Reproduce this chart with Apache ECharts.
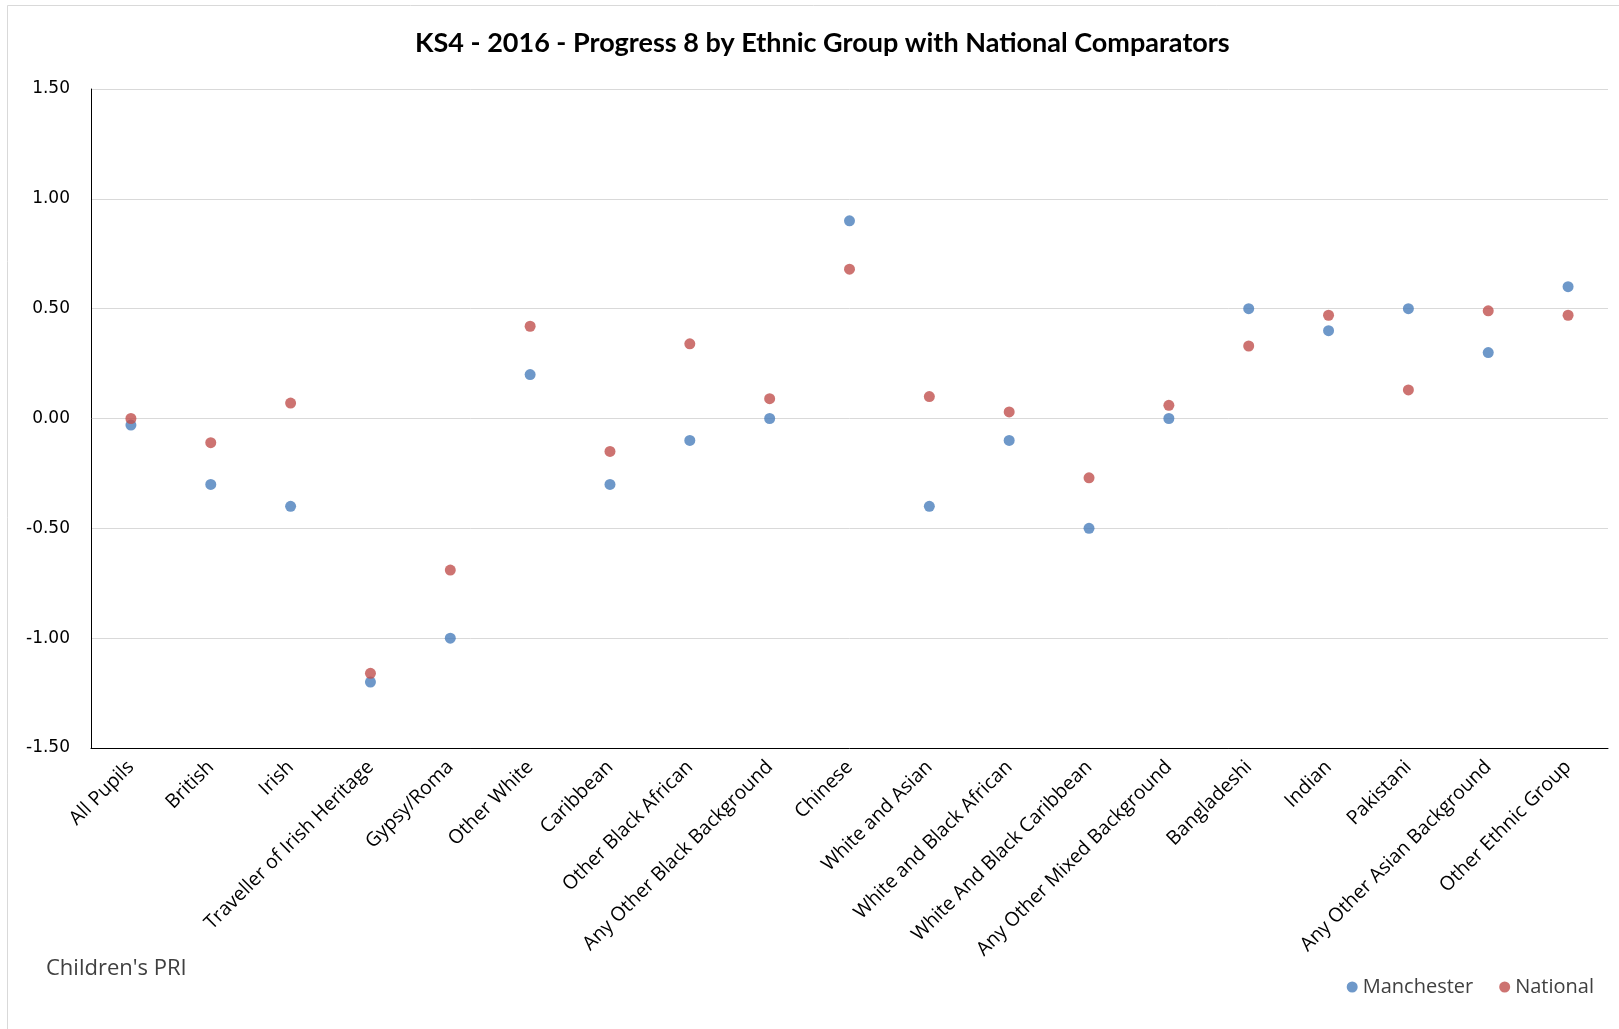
<!DOCTYPE html>
<html>
<head>
<meta charset="utf-8">
<title>KS4 - 2016 - Progress 8 by Ethnic Group</title>
<script src="https://cdn.jsdelivr.net/npm/echarts@6/dist/echarts.min.js"></script>
<style>
  html, body { margin: 0; padding: 0; background: #fff; }
  #chart { width: 1619px; height: 1029px; }
</style>
</head>
<body>
<div id="chart"></div>
<script>
// Ethnic groups on the category axis
const groups = [
  'All Pupils', 'British', 'Irish', 'Traveller of Irish Heritage', 'Gypsy/Roma',
  'Other White', 'Caribbean', 'Other Black African', 'Any Other Black Background',
  'Chinese', 'White and Asian', 'White and Black African', 'White And Black Caribbean',
  'Any Other Mixed Background', 'Bangladeshi', 'Indian', 'Pakistani',
  'Any Other Asian Background', 'Other Ethnic Group'
];

// Progress 8 scores
const manchester = [
  -0.03, -0.30, -0.40, -1.20, -1.00, 0.20, -0.30, -0.10, 0.00,
  0.90, -0.40, -0.10, -0.50, 0.00, 0.50, 0.40, 0.50, 0.30, 0.60
];
const national = [
  0.00, -0.11, 0.07, -1.16, -0.69, 0.42, -0.15, 0.34, 0.09,
  0.68, 0.10, 0.03, -0.27, 0.06, 0.33, 0.47, 0.13, 0.49, 0.47
];

const seriesNames = ['Manchester', 'National'];
const titleText = 'KS4 - 2016 - Progress 8 by Ethnic Group with National Comparators';
const footnote = "Children's PRI";

const chart = echarts.init(document.getElementById('chart'), null, { renderer: 'canvas' });

const option = {
  backgroundColor: '#ffffff',
  animation: false,
  title: {
    text: titleText,
    left: 410,
    top: 25,
    textStyle: {
      fontFamily: 'Lato',
      fontWeight: 'bold',
      fontSize: 27,
      color: '#000000'
    }
  },
  legend: {
    data: seriesNames,
    right: 20,
    top: 972,
    icon: 'circle',
    itemWidth: 11,
    itemHeight: 11,
    itemGap: 26,
    itemStyle: { borderWidth: 0 },
    textStyle: {
      fontFamily: 'Open Sans',
      fontSize: 20,
      color: '#404040'
    }
  },
  grid: {
    left: 91,
    right: 11,
    top: 89,
    bottom: 281,
    containLabel: false
  },
  xAxis: [
    {
      type: 'category',
      data: groups,
      boundaryGap: true,
      position: 'bottom',
      axisLine: { show: false },
      axisTick: { show: false },
      splitLine: { show: false },
      axisLabel: {
        interval: 0,
        rotate: 45,
        margin: 16,
        fontFamily: 'Open Sans',
        fontSize: 19.5,
        color: '#000000'
      }
    },
    {
      // zero reference line across the plot
      type: 'category',
      data: groups,
      boundaryGap: true,
      position: 'bottom',
      axisLine: { show: true, onZero: true, lineStyle: { color: '#000000', width: 1 } },
      axisTick: { show: false },
      axisLabel: { show: false },
      splitLine: { show: false }
    }
  ],
  yAxis: {
    type: 'value',
    min: -1.5,
    max: 1.5,
    interval: 0.5,
    axisLine: { show: true, lineStyle: { color: '#000000', width: 1 } },
    axisTick: { show: false },
    splitLine: { show: true, lineStyle: { color: '#D9D9D9', width: 1 } },
    axisLabel: {
      margin: 21,
      fontFamily: 'DejaVu Sans',
      fontSize: 17,
      color: '#000000',
      formatter: v => v.toFixed(2)
    }
  },
  series: [
    {
      name: seriesNames[0],
      type: 'scatter',
      data: manchester,
      symbol: 'circle',
      symbolSize: 11,
      itemStyle: { color: '#4A7EBB' }
    },
    {
      name: seriesNames[1],
      type: 'scatter',
      data: national,
      symbol: 'circle',
      symbolSize: 11,
      itemStyle: { color: '#C0504D' }
    }
  ],
  graphic: [
    {
      // chart frame
      type: 'rect',
      shape: { x: 7.5, y: 5.5, width: 1640, height: 1060 },
      style: { fill: 'none', stroke: '#D9D9D9', lineWidth: 1 },
      silent: true,
      z: -1
    },
    {
      type: 'text',
      left: 46,
      top: 958,
      style: {
        text: footnote,
        fontFamily: 'Open Sans',
        fontSize: 22,
        fill: '#404040'
      }
    }
  ]
};

chart.setOption(option);
</script>
</body>
</html>
